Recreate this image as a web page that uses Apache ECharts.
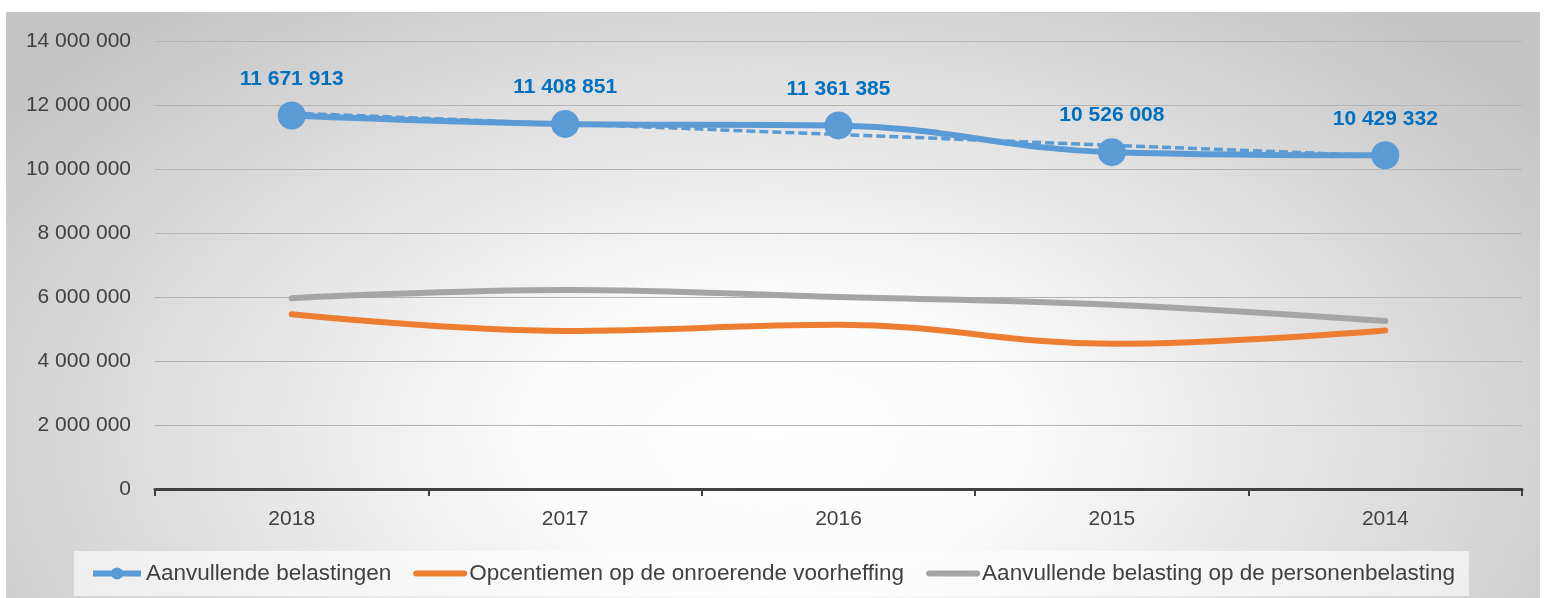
<!DOCTYPE html>
<html lang="nl">
<head>
<meta charset="UTF-8">
<title>Aanvullende belastingen</title>
<script src="https://cdn.jsdelivr.net/npm/echarts@6/dist/echarts.min.js"></script>
<style>
    html, body { margin: 0; padding: 0; background: #fff; }
    #bg {
        position: absolute; left: 6px; top: 12px; width: 1534px; height: 586px;
        border-top: 1px solid #c8c8c8;
        background: radial-gradient(ellipse 62% 95% at 50% 72%, #ffffff 0%, #fbfbfb 25%, #e2e2e2 60%, #c4c4c4 100%);
    }
    #app { position: absolute; left: 0; top: 0; width: 1545px; height: 598px; }
</style>
</head>
<body>
<div id="bg"></div>
<div id="app"></div>
<script>
    // jaren (zoals in de grafiek, aflopend)
    var years = ['2018', '2017', '2016', '2015', '2014'];

    var aanvullend = [11671913, 11408851, 11361385, 10526008, 10429332];
    // trendlijn
    var trend = [11750000, 11410000, 11080000, 10740000, 10410000];
    var opcentiemen = [5460000, 4940000, 5130000, 4540000, 4950000];
    var personen = [5960000, 6220000, 6000000, 5760000, 5250000];

    var names = [
        'Aanvullende belastingen',
        'Opcentiemen op de onroerende voorheffing',
        'Aanvullende belasting op de personenbelasting'
    ];

    var font = 'Liberation Sans';

    function fmt(v) {
        return String(v).replace(/\B(?=(\d{3})+(?!\d))/g, ' ');
    }

    var myChart = echarts.init(document.getElementById('app'));

    var option = {
        animation: false,
        grid: { left: 155, right: 23, top: 41, bottom: 109, containLabel: false },
        legend: {
            data: [
                { name: names[0] },
                { name: names[1], itemStyle: { opacity: 0 } },
                { name: names[2], itemStyle: { opacity: 0 } }
            ],
            left: 'center',
            bottom: 2,
            backgroundColor: 'rgba(255,255,255,0.6)',
            padding: [11, 14, 11, 16],
            itemGap: 22,
            itemWidth: 48,
            itemHeight: 15,
            lineStyle: { width: 6 },
            textStyle: { fontFamily: font, fontSize: 22.5, color: '#404040' }
        },
        xAxis: {
            type: 'category',
            data: years,
            boundaryGap: true,
            axisLine: { lineStyle: { color: '#404040', width: 3 } },
            axisTick: { show: true, length: 7, lineStyle: { color: '#404040', width: 2 } },
            axisLabel: { margin: 20, fontFamily: font, fontSize: 21, color: '#404040' }
        },
        yAxis: {
            type: 'value',
            min: 0,
            max: 14000000,
            interval: 2000000,
            axisLine: { show: false },
            axisTick: { show: false },
            splitLine: { lineStyle: { color: '#b4b4b4', width: 1 } },
            axisLabel: {
                margin: 24, fontFamily: font, fontSize: 21, color: '#404040',
                formatter: function (v) { return fmt(v); }
            }
        },
        series: [{
            name: 'trend',
            type: 'line',
            data: trend,
            symbol: 'none',
            silent: true,
            z: 3,
            lineStyle: { color: '#5B9BD5', width: 3.5, type: [9, 4] }
        }, {
            name: names[0],
            type: 'line',
            data: aanvullend,
            smooth: 0.4,
            symbol: 'circle',
            symbolSize: 28,
            z: 4,
            itemStyle: { color: '#5B9BD5' },
            lineStyle: { color: '#5B9BD5', width: 6 },
            label: {
                show: true,
                position: 'top',
                distance: 12,
                fontFamily: font,
                fontWeight: 'bold',
                fontSize: 21,
                color: '#0070C0',
                formatter: function (p) { return fmt(p.value); }
            }
        }, {
            name: names[1],
            type: 'line',
            data: opcentiemen,
            smooth: 0.4,
            symbol: 'none',
            itemStyle: { color: '#ED7D31' },
            lineStyle: { color: '#ED7D31', width: 6, cap: 'round' }
        }, {
            name: names[2],
            type: 'line',
            data: personen,
            smooth: 0.4,
            symbol: 'none',
            itemStyle: { color: '#A5A5A5' },
            lineStyle: { color: '#A5A5A5', width: 6, cap: 'round' }
        }]
    };
    myChart.setOption(option);
</script>
</body>
</html>
